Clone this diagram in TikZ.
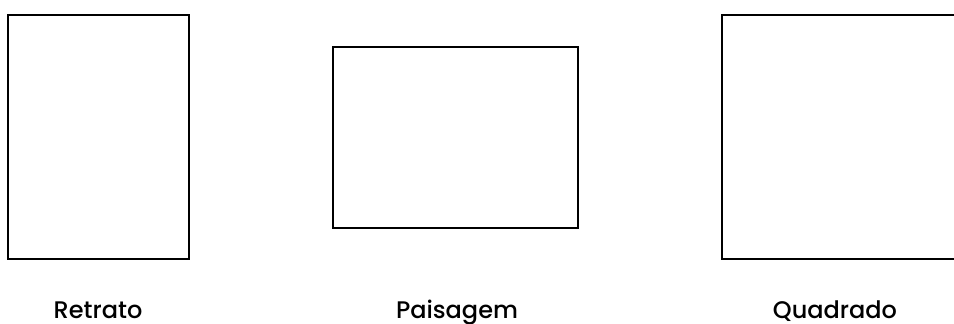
\documentclass[tikz,border=0pt]{standalone}
\usepackage{fontspec}
\setmainfont{Poppins}[UprightFont=* Medium]
\begin{document}
\begin{tikzpicture}[x=1pt,y=-1pt,
  frame/.style={draw=black,line width=2pt},
  lbl/.style={font=\fontsize{24}{27}\selectfont,anchor=base,inner sep=0pt}]
\useasboundingbox (0,0) rectangle (954,324);
\clip (0,0) rectangle (954,324);
\fill[white] (0,0) rectangle (954,324);
\draw[frame] (8,15) rectangle (189,259);
\draw[frame] (333,47) rectangle (578,228);
\draw[frame] (722,15) rectangle (970,259);
\node[lbl] (r) at (98,318.5) {Retrato};
\node[lbl] (p) at (457,318.5) {Paisagem};
\node[lbl] (q) at (835,318.5) {Quadrado};
\end{tikzpicture}
\end{document}
